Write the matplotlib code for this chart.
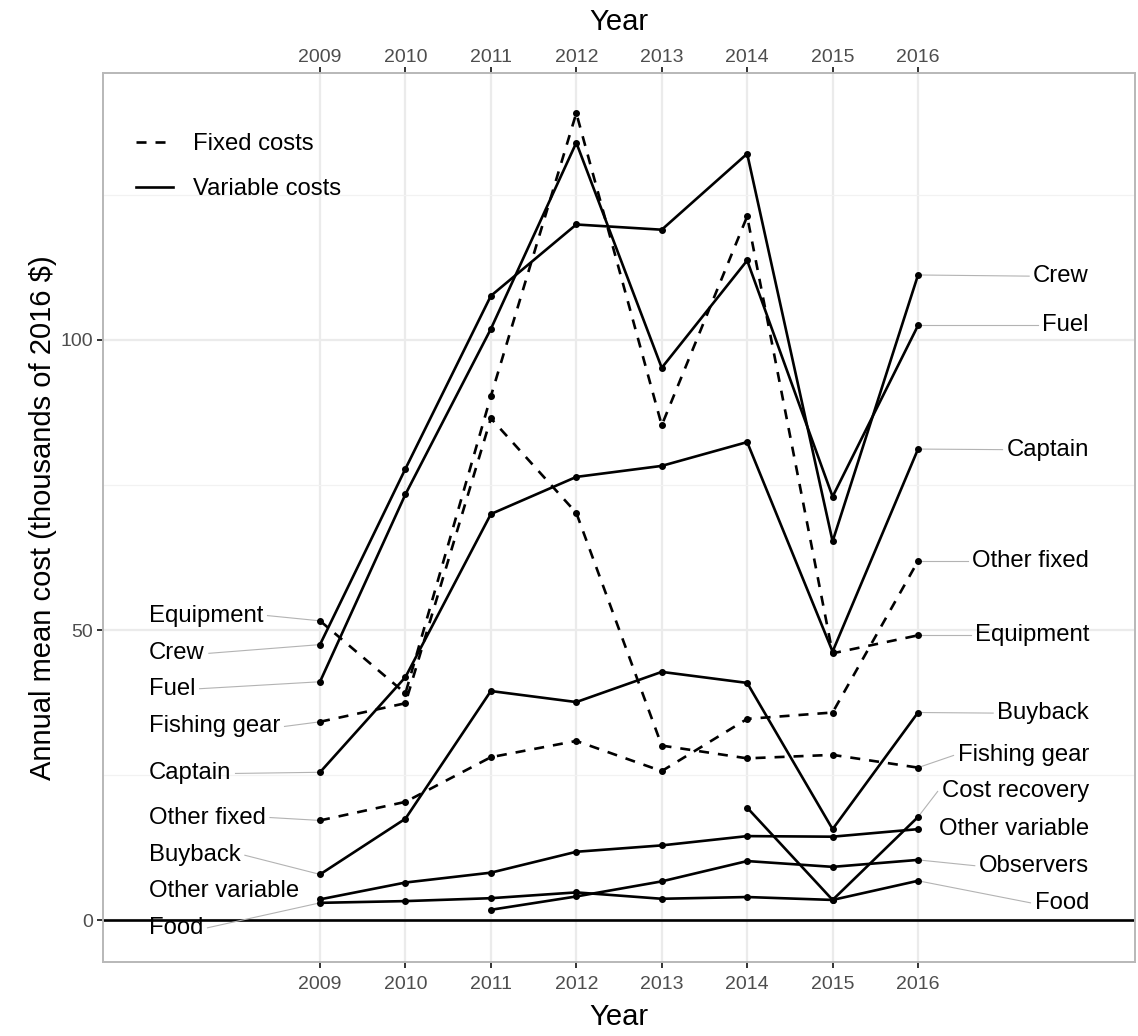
import numpy as np
import matplotlib
matplotlib.use("Agg")
import matplotlib.pyplot as plt
from matplotlib.lines import Line2D

plt.rcParams['font.family'] = ['Liberation Sans', 'DejaVu Sans']

years = [2009, 2010, 2011, 2012, 2013, 2014, 2015, 2016]
nan = np.nan

# variable costs (solid)
crew = [47.5, 77.8, 107.6, 119.9, 119.0, 132.1, 65.3, 111.2]
fuel = [41.1, 73.4, 101.9, 134.0, 95.2, 113.7, 73.0, 102.5]
captain = [25.5, 41.9, 70.0, 76.4, 78.3, 82.4, 46.3, 81.2]
buyback = [7.9, 17.5, 39.5, 37.6, 42.8, 40.9, 15.7, 35.8]
other_variable = [3.6, 6.5, 8.2, 11.8, 12.9, 14.5, 14.4, 15.7]
observers = [nan, nan, 1.8, 4.1, 6.7, 10.2, 9.2, 10.4]
food = [3.0, 3.3, 3.8, 4.8, 3.7, 4.0, 3.5, 6.8]
cost_recovery = [nan, nan, nan, nan, nan, 19.4, 3.5, 17.8]

# fixed costs (dashed)
equipment = [51.6, 39.1, 90.3, 139.1, 85.3, 121.3, 46.0, 49.1]
fishing_gear = [34.2, 37.4, 86.5, 70.2, 30.1, 27.9, 28.5, 26.3]
other_fixed = [17.2, 20.4, 28.1, 30.9, 25.7, 34.7, 35.8, 61.9]

series = {
    "Crew": (crew, "variable"),
    "Fuel": (fuel, "variable"),
    "Captain": (captain, "variable"),
    "Buyback": (buyback, "variable"),
    "Other variable": (other_variable, "variable"),
    "Observers": (observers, "variable"),
    "Food": (food, "variable"),
    "Cost recovery": (cost_recovery, "variable"),
    "Equipment": (equipment, "fixed"),
    "Fishing gear": (fishing_gear, "fixed"),
    "Other fixed": (other_fixed, "fixed"),
}

# repelled label positions (y) at the left (2009) and right (2016) ends
left_labels = ["Equipment", "Crew", "Fuel", "Fishing gear", "Captain",
               "Other fixed", "Buyback", "Other variable", "Food"]
left_label_y = [52.5, 46.0, 39.9, 33.4, 25.3, 17.7, 11.2, 5.0, -1.3]
right_labels = ["Crew", "Fuel", "Captain", "Other fixed", "Equipment", "Buyback",
                "Fishing gear", "Cost recovery", "Other variable", "Observers", "Food"]
right_label_y = [111.0, 102.5, 81.1, 61.9, 49.1, 35.7, 28.4, 22.2, 15.8, 9.4, 3.0]

fig = plt.figure(figsize=(11.38, 10.36), dpi=100)
ax = fig.add_axes([0.0905, 0.0714, 0.9069, 0.8581])
ax.set_xlim(2006.46, 2018.54)
ax.set_ylim(-7.2, 146.0)

ax.set_xticks(years)
ax.set_yticks([0, 50, 100])
ax.set_yticks([25, 75, 125], minor=True)
ax.grid(which='major', color='#ebebeb', lw=1.6)
ax.grid(which='minor', axis='y', color='#f2f2f2', lw=0.9)
ax.set_axisbelow(True)
for s in ax.spines.values():
    s.set_color('#b8b8b8')
    s.set_linewidth(1.4)

ax.axhline(0, color='black', lw=1.9, zorder=2)

for name, (vals, kind) in series.items():
    ls = (0, (3.8, 3.4)) if kind == "fixed" else '-'
    ax.plot(years, vals, color='black', lw=1.9, linestyle=ls, zorder=3)
    ax.plot(years, vals, 'o', color='black', ms=4, zorder=4)

ax.tick_params(axis='both', which='major', length=4, width=1.4, color='#333333',
               labelcolor='#4d4d4d', labelsize=14)
ax.tick_params(axis='x', pad=5.7)
ax.tick_params(axis='y', pad=3)
ax.tick_params(axis='y', which='minor', length=0)
ax.set_xlabel("Year", fontsize=21, labelpad=7.5)
ax.set_ylabel("Annual mean cost (thousands of 2016 $)", fontsize=21, labelpad=2.5)

sec = ax.secondary_xaxis('top')
sec.set_xticks(years)
sec.tick_params(length=4, width=1.4, color='#333333', labelcolor='#4d4d4d',
                labelsize=14, pad=1)
sec.set_xlabel("Year", fontsize=21, labelpad=13.5)
sec.spines['top'].set_visible(False)

# labels
texts = []
for name, ly in zip(left_labels, left_label_y):
    t = ax.text(2007.0, ly, name, ha='left', va='center', fontsize=17.2, zorder=5)
    texts.append((t, name, 0, 'left'))
for name, ly in zip(right_labels, right_label_y):
    t = ax.text(2018.0, ly, name, ha='right', va='center', fontsize=17.2, zorder=5)
    texts.append((t, name, -1, 'right'))

fig.canvas.draw()
renderer = fig.canvas.get_renderer()
inv = ax.transData.inverted()
for t, name, idx, side in texts:
    bb = t.get_window_extent(renderer)
    px, py = ax.transData.transform((years[idx], series[name][0][idx]))
    cy = (bb.y0 + bb.y1) / 2
    ex = bb.x1 + 4 if side == 'left' else bb.x0 - 4
    if np.hypot(ex - px, cy - py) < 25:
        continue
    (x0, y0), (x1, y1) = inv.transform([(px, py), (ex, cy)])
    ax.plot([x0, x1], [y0, y1], color='#b3b3b3', lw=0.8, zorder=2.5)

handles = [Line2D([], [], color='black', lw=1.9, linestyle=(0, (3.8, 3.4))),
           Line2D([], [], color='black', lw=1.9)]
ax.legend(handles, ["Fixed costs", "Variable costs"], loc='upper left',
          bbox_to_anchor=(0.032, 0.932), frameon=False, fontsize=17.2,
          handlelength=1.55, handletextpad=0.85, labelspacing=0.95,
          borderpad=0, borderaxespad=0)

fig.savefig("out.png", dpi=100)
